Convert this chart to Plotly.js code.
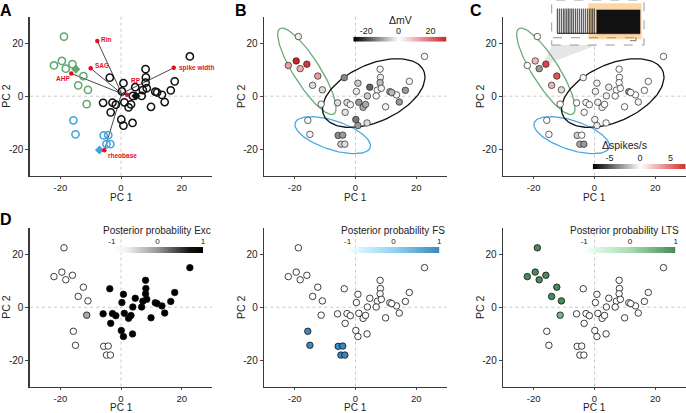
<!DOCTYPE html>
<html><head><meta charset="utf-8">
<script src="https://cdn.plot.ly/plotly-3.0.1.min.js"></script>
<style>html,body{margin:0;padding:0;background:#fff}#chart{width:686px;height:413px}</style>
</head><body><div id="chart"></div>
<script>
// ---------------- data ----------------
const pc1 = [-18.8,-19.5,-22.1,-18.2,-16.0,-12.4,-14.1,-10.9,-11.3,
  -15.7,-15.0,-5.7,-4.2,-4.8,-3.5,
  22.7,8.1,-3.7,8.2,0.8,8.1,17.7,4.7,7.2,8.5,0.3,11.3,16.4,13.5,6.8,3.9,-5.9,-2.8,-1.7,1.1,2.5,3.3,14.4,9.9,-3.4,0.1,0.8,3.8,11.9];
const pc2 = [22.5,13.3,11.6,10.4,12.1,7.6,4.1,2.4,-3.0,
  -9.1,-14.4,-14.8,-14.7,-18.1,-18.1,
  15.0,10.2,7.0,7.1,4.9,5.1,5.6,3.4,2.3,3.0,1.8,1.7,2.2,0.5,0.1,0.1,-2.5,-2.4,-3.2,-2.3,-4.2,-3.1,-2.2,-4.0,-6.1,-8.8,-11.1,-10.1,1.4];
const cluster = ['LTS','LTS','LTS','LTS','LTS','LTS','LTS','LTS','LTS',
  'FS','FS','FS','FS','FS','FS',
  'Exc','Exc','Exc','Exc','Exc','Exc','Exc','Exc','Exc','Exc','Exc','Exc','Exc','Exc','Exc',
  'Exc','Exc','Exc','Exc','Exc','Exc','Exc','Exc','Exc','Exc','Exc','Exc','Exc','Exc'];
const deltaMV = [3,30,13,11,27,13,-3.7,-3.7,1,
  -0.5,-1,-13,-11,-5.6,-3.7,
  -0.5,-1,-13,-1.9,-5.6,-7.5,-1,-16.8,-1,-1.5,-1.9,-9.3,-11.2,-1,-0.5,-5.6,-3.7,-3.7,-1,-11.2,-9.3,-9.3,-11.2,-1,-3,-14.9,-11.2,-3.7,-7.5];
const deltaSpikes = [0,2.5,0,-3.1,6.5,6.0,2.7,-1.0,0,
  0,0,-1.5,0,-2.6,-3.1,
  0,0,-0.3,0,-0.4,0,0,-0.5,0,0,-0.3,-3.1,0,0,0,-0.4,0,-0.3,0,-0.4,-0.3,0,-0.3,0,0,-0.4,-0.5,0,0];
const postExc = [-1,-1,-1,-1,-1,-1,-1,-1,-0.15,
  -1,-1,-1,-1,-1,-1,
  1,1,1,1,1,1,1,1,1,1,1,1,1,1,1,1,1,1,1,1,1,1,1,1,1,1,1,1,1];
const postFS = [-1,-1,-1,-1,-1,-1,-1,-1,-1,
  1,1,1,1,1,1,
  -1,-1,-1,-1,-1,-1,-1,-1,-1,-1,-1,-1,-1,-1,-1,-1,-1,-1,-1,-1,-1,-1,-1,-1,-1,-1,-1,-1,-1];
const postLTS = [1,1,1,1,1,1,1,1,0.5,
  -1,-1,-1,-1,-1,-1,
  -1,-1,-1,-1,-1,-1,-1,-1,-1,-1,-1,-1,-1,-1,-1,-1,-1,-1,-1,-1,-1,-1,-1,-1,-1,-1,-1,-1,-1];

const loadingNames = ['Rin','SAG','AHP','RP','spike width','rheobase'];
const loadingPC1 = [-7.8,-10.0,-16.4,2.0,17.4,-5.5];
const loadingPC2 = [20.8,10.5,8.6,0.5,10.7,-20.4];
const loadingOrigin = [0.2,1.0];

const centroidNames = ['LTS','FS','Exc'];
const centroidPC1 = [-14.9,-7.1,4.9];
const centroidPC2 = [10.2,-20.3,0.1];

const ellipseNames = ['LTS','FS','Exc'];
const ellipseCX = [-16.0,-7.5,6.0];
const ellipseCY = [9.4,-14.7,1.2];
const ellipseA = [18.4,13.2,18.5];
const ellipseB = [4.5,5.4,10.5];
const ellipseAngle = [118.4,-21.7,30];

const axisTicks = [-20,0,20];
const mvRange = [-28,30], mvTicks = [-20,0,20];
const spkRange = [-7.75,7.5], spkTicks = [-5,0,5];
const postRange = [-1.02,1.0], postTicks = [-1,0,1];

// inset trace (arbitrary time units 0-100)
const spikeTimes = [6.1,8.2,10.4,12.6,14.4,16.3,18.0,19.8,21.7,23.4,25.6,27.7,29.9,32.1,34.2,36.4,38.6,40.7,42.6,44.4,46.2];
const spikeBase = 26, spikeTop = 81;
const burstStart = 48.8, burstEnd = 95.7, burstBottom = 25, burstTop = 78;
const stimStart = 39.7, stimEnd = 97.5;

// ---------------- style ----------------
const W = 686, H = 413;
const FONT = 'Liberation Sans, Arial, Helvetica, sans-serif';
const clusterColor = {LTS:'#5fa86f', FS:'#45a3de', Exc:'#111111'};
const ellipseColor = {LTS:'#6aaa7a', FS:'#4aa8e0', Exc:'#111111'};
const mvScale = [[0,'#000000'],[0.483,'#ffffff'],[1,'#cc2229']];
const spkScale = [[0,'#000000'],[0.508,'#ffffff'],[1,'#d42a2a']];
const excScale = [[0,'#ffffff'],[0.15,'#f4f4f4'],[0.5,'#999999'],[0.85,'#111111'],[1,'#000000']];
const fsScale = [[0,'#ffffff'],[0.12,'#dcf7fd'],[0.5,'#92d4f0'],[1,'#3a87c2']];
const ltsScale = [[0,'#ffffff'],[0.12,'#e2f9e6'],[0.5,'#a9dcb3'],[1,'#4a8a59']];

function xd(a,b){return [a/W,b/W];}
function yd(t,b){return [1-b/H,1-t/H];}
const colX = [[30,212],[264.3,446.7],[503.3,685.7]];
const rowY = [[16.7,175.7],[228,386.5]];
const pc1TitleY = [197.8,407.5];

const layout = {
  width:W, height:H, margin:{l:0,r:0,t:0,b:0},
  paper_bgcolor:'#fff', plot_bgcolor:'rgba(0,0,0,0)',
  showlegend:false, font:{family:FONT,color:'#222'},
  shapes:[], annotations:[]
};
const data = [];

for(let p=0;p<6;p++){
  const r=Math.floor(p/3), c=p%3, n=p+1;
  const xk = n===1?'xaxis':'xaxis'+n, yk = n===1?'yaxis':'yaxis'+n;
  const xs = n===1?'x':'x'+n, ys = n===1?'y':'y'+n;
  layout[xk] = {domain:xd(...colX[c]), anchor:ys, range:[-30,30], tickvals:axisTicks, ticktext:axisTicks.map(String),
    ticks:'outside', ticklen:2, tickwidth:1, tickcolor:'#444', showline:true, linecolor:'#3a3a3a', linewidth:1.6,
    showgrid:false, zeroline:false, automargin:false, tickfont:{size:9.5,color:'#222'}, fixedrange:true};
  layout[yk] = {domain:yd(...rowY[r]), anchor:xs, range:[-30,30], tickvals:axisTicks, ticktext:axisTicks.map(String),
    ticks:'outside', ticklen:3, tickwidth:1, tickcolor:'#444', showline:true, linecolor:'#3a3a3a', linewidth:1.6,
    showgrid:false, zeroline:false, automargin:false, tickfont:{size:10,color:'#222'}, fixedrange:true};
  layout.shapes.push({type:'line', xref:xs, yref:ys+' domain', x0:0,x1:0,y0:0,y1:1, line:{color:'#c4c4c4',width:0.9,dash:'dot'}, layer:'below'});
  layout.shapes.push({type:'line', xref:xs+' domain', yref:ys, x0:0,x1:1,y0:0,y1:0, line:{color:'#c4c4c4',width:0.9,dash:'dot'}, layer:'below'});
  // axis titles
  const cx = (colX[c][0]+colX[c][1])/2, cy = (rowY[r][0]+rowY[r][1])/2;
  layout.annotations.push({xref:'paper', yref:'paper', x:cx/W, y:1-pc1TitleY[r]/H, text:'PC 1', showarrow:false,
    xanchor:'center', yanchor:'middle', font:{size:10,color:'#222',family:FONT}});
  layout.annotations.push({xref:'paper', yref:'paper', x:(colX[c][0]-23.5)/W, y:1-cy/H, text:'PC 2', showarrow:false, textangle:-90,
    xanchor:'center', yanchor:'middle', font:{size:10.5,color:'#222',family:FONT}});
}

// ---- Panel A ----
const lx=[], ly=[];
loadingPC1.forEach((v,i)=>{lx.push(loadingOrigin[0],v,null); ly.push(loadingOrigin[1],loadingPC2[i],null);});
data.push({type:'scatter', mode:'lines', x:lx, y:ly, line:{color:'#333',width:0.9}, hoverinfo:'skip', xaxis:'x', yaxis:'y'});
['LTS','FS','Exc'].forEach(k=>{
  const idx = cluster.map((c,i)=>c===k?i:-1).filter(i=>i>=0);
  data.push({type:'scatter', mode:'markers', x:idx.map(i=>pc1[i]), y:idx.map(i=>pc2[i]),
    marker:{symbol:'circle-open', size:7.3, color:clusterColor[k], line:{width:1.5,color:clusterColor[k]}}, xaxis:'x', yaxis:'y'});
});
data.push({type:'scatter', mode:'markers', x:centroidPC1, y:centroidPC2,
  marker:{symbol:'diamond', size:7, color:centroidNames.map(k=>clusterColor[k])}, xaxis:'x', yaxis:'y'});
data.push({type:'scatter', mode:'markers', x:loadingPC1, y:loadingPC2,
  marker:{size:4.5, color:'#e3101c'}, xaxis:'x', yaxis:'y'});
const labelOff = [[2,2,'left'],[2,2.5,'left'],[1,-5.5,'right'],[1.5,14,'left'],[3.5,0,'left'],[1.5,-5,'left']];
loadingNames.forEach((t,i)=>{
  layout.annotations.push({xref:'x', yref:'y', x:loadingPC1[i], y:loadingPC2[i], text:'<b>'+t+'</b>', showarrow:false,
    xanchor:labelOff[i][2], yanchor:'middle', xshift:labelOff[i][0], yshift:labelOff[i][1],
    font:{size:6.5,color:'#e3101c',family:FONT}});
});

// ---- ellipses for B and C ----
function ellipse(i){
  const xs=[], ys=[], th=ellipseAngle[i]*Math.PI/180;
  for(let k=0;k<=120;k++){
    const t=2*Math.PI*k/120, a=ellipseA[i]*Math.cos(t), b=ellipseB[i]*Math.sin(t);
    xs.push(ellipseCX[i]+a*Math.cos(th)-b*Math.sin(th));
    ys.push(ellipseCY[i]+a*Math.sin(th)+b*Math.cos(th));
  }
  return [xs,ys];
}
['x2','x3'].forEach((xa,j)=>{
  const ya = j===0?'y2':'y3';
  ellipseNames.forEach((k,i)=>{
    const e=ellipse(i);
    data.push({type:'scatter', mode:'lines', x:e[0], y:e[1], line:{color:ellipseColor[k],width:1.3}, hoverinfo:'skip', xaxis:xa, yaxis:ya});
  });
});
data.push({type:'scatter', mode:'markers', x:pc1, y:pc2, xaxis:'x2', yaxis:'y2',
  marker:{size:6.5, color:deltaMV, colorscale:mvScale, cmin:mvRange[0], cmax:mvRange[1], line:{color:'#222',width:0.7}}});
data.push({type:'scatter', mode:'markers', x:pc1, y:pc2, xaxis:'x3', yaxis:'y3',
  marker:{size:6.5, color:deltaSpikes, colorscale:spkScale, cmin:spkRange[0], cmax:spkRange[1], line:{color:'#222',width:0.7}}});

// ---- D, E, F ----
[[postExc,excScale,'x4','y4'],[postFS,fsScale,'x5','y5'],[postLTS,ltsScale,'x6','y6']].forEach(s=>{
  data.push({type:'scatter', mode:'markers', x:pc1, y:pc2, xaxis:s[2], yaxis:s[3],
    marker:{size:6.5, color:s[0], colorscale:s[1], cmin:postRange[0], cmax:postRange[1], line:{color:'#111',width:0.8}}});
});

// ---- colour bars (heatmap strips on own axes) ----
const bars = [
  {n:7, px:[353.3,446.7], py:[36.7,41.7], range:mvRange, ticks:mvTicks, scale:mvScale, title:'\u0394mV', tfs:9, ty:20.5, fs:10.5},
  {n:8, px:[592.7,685.7], py:[164,169.3], range:spkRange, ticks:spkTicks, scale:spkScale, title:'\u0394spikes/s', tfs:9, ty:145, fs:10.5},
  {n:9, px:[111,203], py:[247,253], range:postRange, ticks:postTicks, scale:excScale, title:'Posterior probability Exc', tfs:8, ty:230, fs:10},
  {n:10, px:[346.7,439.3], py:[247,253], range:postRange, ticks:postTicks, scale:fsScale, title:'Posterior probability FS', tfs:8, ty:230, fs:10},
  {n:11, px:[583.3,675.7], py:[247,253], range:postRange, ticks:postTicks, scale:ltsScale, title:'Posterior probability LTS', tfs:8, ty:230, fs:10}
];
bars.forEach(b=>{
  layout['xaxis'+b.n] = {domain:xd(...b.px), anchor:'y'+b.n, range:b.range, side:'top', tickvals:b.ticks, ticktext:b.ticks.map(String),
    ticks:'', showline:false, showgrid:false, zeroline:false, automargin:false, tickfont:{size:b.tfs,color:'#222'}, fixedrange:true};
  layout['yaxis'+b.n] = {domain:yd(...b.py), anchor:'x'+b.n, range:[0,1], visible:false, fixedrange:true};
  data.push({type:'heatmap', x:b.range, y:[0,1], z:[b.range,b.range], zmin:b.range[0], zmax:b.range[1],
    colorscale:b.scale, zsmooth:'best', showscale:false, hoverinfo:'skip', xaxis:'x'+b.n, yaxis:'y'+b.n});
  const cxp = Math.min((b.px[0]+b.px[1])/2, W-62);
  layout.annotations.push({xref:'paper', yref:'paper', x:cxp/W, y:1-b.ty/H, text:b.title, showarrow:false,
    xanchor:'center', yanchor:'middle', font:{size:b.fs,color:'#222',family:FONT}});
});

// ---- inset in C ----
layout.xaxis12 = {domain:xd(551.7,644), anchor:'y12', range:[0,100], visible:false, fixedrange:true};
layout.yaxis12 = {domain:yd(0,45), anchor:'x12', range:[0,100], visible:false, fixedrange:true};
layout.shapes.push({type:'path', xref:'paper', yref:'paper', layer:'below',
  path:`M ${552/W} ${1-45/H} L ${597/W} ${1-45/H} L ${542/W} ${1-66/H} Z`, fillcolor:'rgba(200,200,200,0.45)', line:{width:0}});
layout.shapes.push({type:'rect', xref:'x12 domain', yref:'y12 domain', x0:0,x1:1,y0:0,y1:1, fillcolor:'#ffffff', line:{color:'#999',width:1,dash:'dash'}, layer:'below'});
layout.shapes.push({type:'rect', xref:'x12', yref:'y12', x0:stimStart,x1:stimEnd,y0:12.7,y1:92.7, fillcolor:'#fdd6a6', line:{width:0}, layer:'below'});
layout.shapes.push({type:'line', xref:'x12', yref:'y12', x0:1.4,x1:99,y0:16.2,y1:16.2, line:{color:'#999',width:1,dash:'dash'}});
layout.shapes.push({type:'line', xref:'x12', yref:'y12', x0:84.8,x1:91.3,y0:9.6,y1:9.6, line:{color:'#555',width:0.8}});
layout.shapes.push({type:'line', xref:'x12', yref:'y12', x0:91.3,x1:91.3,y0:9.6,y1:17, line:{color:'#555',width:0.8}});
const sx=[], sy=[];
spikeTimes.forEach(t=>{sx.push(t,t,null); sy.push(spikeBase,spikeTop,null);});
data.push({type:'scatter', mode:'lines', x:[spikeTimes[0],burstStart], y:[spikeBase,spikeBase], line:{color:'#444',width:1.2}, hoverinfo:'skip', xaxis:'x12', yaxis:'y12'});
data.push({type:'scatter', mode:'lines', x:sx, y:sy, line:{color:'#222',width:0.9}, hoverinfo:'skip', xaxis:'x12', yaxis:'y12'});
data.push({type:'scatter', mode:'lines', x:[burstStart,burstEnd,burstEnd,burstStart,burstStart], y:[burstBottom,burstBottom,burstTop,burstTop,burstBottom],
  fill:'toself', fillcolor:'#111', line:{color:'#111',width:0.5}, hoverinfo:'skip', xaxis:'x12', yaxis:'y12'});

// ---- panel letters ----
[['A',6,10],['B',241,10],['C',476,10],['D',6,219]].forEach(l=>{
  layout.annotations.push({xref:'paper', yref:'paper', x:l[1]/W, y:1-l[2]/H, text:'<b>'+l[0]+'</b>', showarrow:false,
    xanchor:'center', yanchor:'middle', font:{size:16,color:'#000',family:FONT}});
});

Plotly.newPlot('chart', data, layout, {displayModeBar:false, staticPlot:true});
</script></body></html>
